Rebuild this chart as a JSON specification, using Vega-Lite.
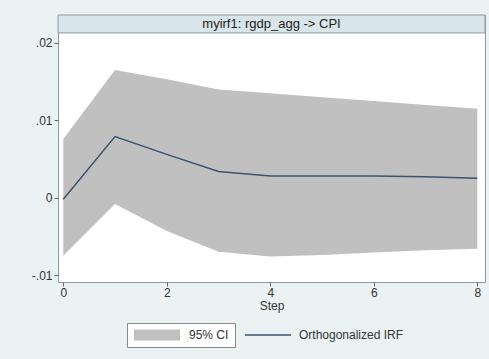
{
  "$schema": "https://vega.github.io/schema/vega-lite/v6.json",
  "width": 427,
  "height": 267,
  "autosize": {"type": "none"},
  "padding": {"left": 58, "top": 15, "right": 4, "bottom": 77},
  "background": "#eaf2f3",
  "config": {
    "view": {"fill": "white", "stroke": "#8c9aa0", "strokeWidth": 1},
    "font": "Liberation Sans",
    "axis": {"labelFont": "Liberation Sans", "titleFont": "Liberation Sans"}
  },
  "data": {
    "values": [
      {"step": 0, "irf": -0.0002, "lower": -0.0075, "upper": 0.0076},
      {"step": 1, "irf": 0.0079, "lower": -0.0008, "upper": 0.0165},
      {"step": 2, "irf": 0.0056, "lower": -0.0043, "upper": 0.0153},
      {"step": 3, "irf": 0.0034, "lower": -0.0070, "upper": 0.0140},
      {"step": 4, "irf": 0.0028, "lower": -0.0076, "upper": 0.0135},
      {"step": 5, "irf": 0.0028, "lower": -0.0074, "upper": 0.0130},
      {"step": 6, "irf": 0.0028, "lower": -0.0071, "upper": 0.0125},
      {"step": 7, "irf": 0.0027, "lower": -0.0068, "upper": 0.0120},
      {"step": 8, "irf": 0.0025, "lower": -0.0066, "upper": 0.0115}
    ]
  },
  "layer": [
    {
      "mark": {"type": "area", "opacity": 1},
      "encoding": {
        "x": {
          "field": "step", "type": "quantitative",
          "scale": {"domain": [-0.102, 8.149], "nice": false, "zero": false},
          "axis": {
            "values": [0, 2, 4, 6, 8], "title": "Step", "grid": false, "domain": false,
            "tickSize": 4, "tickColor": "#666", "labelFontSize": 12, "labelColor": "#333",
            "labelPadding": 1, "titleFontSize": 12, "titleFontWeight": "normal",
            "titleColor": "#333", "titlePadding": 2
          }
        },
        "y": {
          "field": "lower", "type": "quantitative",
          "scale": {"domain": [-0.0109, 0.02362], "nice": false, "zero": false},
          "axis": {
            "values": [-0.01, 0, 0.01, 0.02], "title": null, "grid": false, "domain": false,
            "tickSize": 4, "tickColor": "#666", "labelFontSize": 12, "labelColor": "#333",
            "labelPadding": 2,
            "labelExpr": "replace(replace(format(datum.value, '.2~f'), '0.', '.'), '\u2212', '-')"
          }
        },
        "y2": {"field": "upper"},
        "fill": {
          "datum": "95% CI\u00a0\u00a0\u00a0\u00a0\u00a0\u00a0\u00a0\u00a0\u00a0\u00a0\u00a0\u00a0\u00a0\u00a0\u00a0\u00a0\u00a0\u00a0\u00a0\u00a0\u00a0\u00a0\u00a0\u00a0\u00a0\u00a0\u00a0\u00a0\u00a0\u00a0\u00a0\u00a0\u00a0\u00a0\u00a0\u00a0\u00a0\u00a0\u00a0\u00a0\u00a0\u00a0\u00a0\u00a0\u00a0\u00a0\u00a0\u00a0\u00a0\u00a0\u00a0\u00a0\u00a0",
          "scale": {"range": ["#c0c0c0"]},
          "legend": {
            "orient": "none", "legendX": 69, "legendY": 308, "direction": "horizontal",
            "title": null, "fillColor": "white", "strokeColor": "#888", "padding": 6,
            "labelFontSize": 12, "labelColor": "#333", "labelOffset": 44, "labelLimit": 600,
            "symbolSize": 100, "symbolType": "M-1,-1.1H8.2V1.1H-1Z", "symbolStrokeWidth": 0,
            "symbolOpacity": 1
          }
        }
      }
    },
    {
      "mark": {"type": "line", "strokeWidth": 1.5},
      "encoding": {
        "x": {"field": "step", "type": "quantitative"},
        "y": {"field": "irf", "type": "quantitative"},
        "stroke": {
          "datum": "Orthogonalized IRF",
          "scale": {"domain": ["Orthogonalized IRF"], "range": ["#3b5470"]},
          "legend": {
            "orient": "none", "legendX": 186, "legendY": 314, "direction": "horizontal",
            "title": null, "padding": 0,
            "labelFontSize": 12, "labelColor": "#333", "labelOffset": 43, "labelLimit": 300,
            "symbolSize": 100, "symbolType": "M-1,0H8.2", "symbolStrokeWidth": 1.3,
            "symbolOpacity": 1
          }
        }
      }
    },
    {
      "data": {"values": [{"label": "myirf1: rgdp_agg -> CPI"}]},
      "mark": {"type": "rect", "fill": "#d8e5ea", "stroke": "#8c9aa0", "strokeWidth": 1},
      "encoding": {
        "y": {"datum": 0.0213},
        "y2": {"datum": 0.02362}
      }
    },
    {
      "data": {"values": [{"label": "myirf1: rgdp_agg -> CPI"}]},
      "mark": {"type": "text", "fontSize": 13, "color": "#222", "font": "Liberation Sans"},
      "encoding": {
        "y": {"datum": 0.02246},
        "text": {"field": "label"}
      }
    }
  ]
}
